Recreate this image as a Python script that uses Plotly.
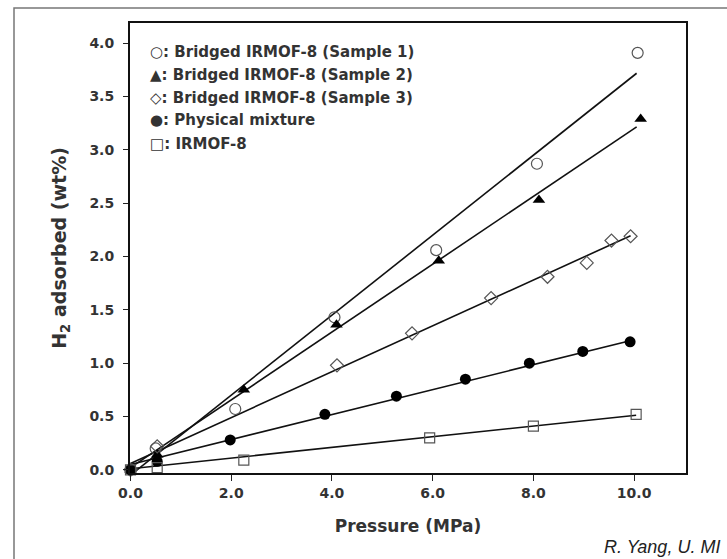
import plotly.graph_objects as go

# ---- data ----
series_names = ["Bridged IRMOF-8 (Sample 1)", "Bridged IRMOF-8 (Sample 2)",
                "Bridged IRMOF-8 (Sample 3)", "Physical mixture", "IRMOF-8"]
legend_symbols = ["○", "▲", "◇", "●", "□"]

s1_x = [0, 0.5, 2.08, 4.05, 6.07, 8.07, 10.07]
s1_y = [0, 0.20, 0.57, 1.43, 2.06, 2.87, 3.91]

s2_x = [0, 0.53, 2.25, 4.09, 6.12, 8.11, 10.13]
s2_y = [0, 0.14, 0.75, 1.36, 1.96, 2.53, 3.29]

s3_x = [0, 0.53, 4.10, 5.59, 7.16, 8.28, 9.06, 9.55, 9.93]
s3_y = [0, 0.22, 0.98, 1.28, 1.61, 1.81, 1.94, 2.15, 2.19]

pm_x = [0, 0.53, 1.98, 3.86, 5.28, 6.65, 7.92, 8.98, 9.92]
pm_y = [0, 0.08, 0.28, 0.52, 0.69, 0.85, 1.00, 1.11, 1.20]

ir_x = [0, 0.53, 2.25, 5.94, 8.00, 10.04]
ir_y = [0, 0.02, 0.09, 0.30, 0.41, 0.52]

# linear fit lines (intercept, slope, x-start, x-end)
fit_intercept = [-0.05, 0.02, 0.06, 0.05, 0.01]
fit_slope = [0.375, 0.318, 0.215, 0.117, 0.050]
fit_xstart = [0.1, 0.0, 0.0, 0.0, 0.0]
fit_xend = [10.05, 10.05, 9.93, 9.92, 10.04]

x_ticks = [0, 2, 4, 6, 8, 10]
x_ticklabels = ["0.0", "2.0", "4.0", "6.0", "8.0", "10.0"]
y_ticks = [0, 0.5, 1, 1.5, 2, 2.5, 3, 3.5, 4]
y_ticklabels = ["0.0", "0.5", "1.0", "1.5", "2.0", "2.5", "3.0", "3.5", "4.0"]

credit = "R. Yang, U. MI"

# ---- figure ----
FONT = "DejaVu Sans, sans-serif"
ARIAL = "Liberation Sans, Arial, sans-serif"
fig = go.Figure()

for b, m, xs, xe in zip(fit_intercept, fit_slope, fit_xstart, fit_xend):
    fig.add_trace(go.Scatter(x=[xs, xe], y=[b + m * xs, b + m * xe], mode="lines",
                             line=dict(color="#111111", width=1.6),
                             showlegend=False, hoverinfo="skip"))

marker_styles = [
    dict(symbol="circle-open", size=11, color="#555555", line=dict(width=1.2)),
    dict(symbol="triangle-up", size=11, color="#000000"),
    dict(symbol="diamond-open", size=10, color="#555555", line=dict(width=1.2)),
    dict(symbol="circle", size=11, color="#000000"),
    dict(symbol="square-open", size=10, color="#555555", line=dict(width=1.2)),
]
data_xy = [(s1_x, s1_y), (s2_x, s2_y), (s3_x, s3_y), (pm_x, pm_y), (ir_x, ir_y)]
for (xs, ys), ms, name in zip(data_xy, marker_styles, series_names):
    fig.add_trace(go.Scatter(x=xs, y=ys, mode="markers", marker=ms, name=name,
                             showlegend=False, cliponaxis=False))

# legend-like text block
legend_y = [3.92, 3.70, 3.49, 3.28, 3.06]
for sym, name, yy in zip(legend_symbols, series_names, legend_y):
    fig.add_annotation(x=0.35, y=yy, xref="x", yref="y", xanchor="left", yanchor="middle",
                       text="<b>" + sym + ": " + name + "</b>", showarrow=False,
                       font=dict(family=FONT, size=15, color="#333333"))

fig.add_annotation(x=(602 - 130) / 556, y=(473 - 547) / 450, xref="paper", yref="paper",
                   xanchor="left", yanchor="middle", text="<i>" + credit + "</i>",
                   showarrow=False, font=dict(family=ARIAL, size=18, color="#222222"))

# outer frame (only left and top edges fall inside the picture)
fx0, fy0 = (14 - 130) / 556, (473 - 8) / 450
fig.add_shape(type="path", xref="paper", yref="paper",
              path=f"M {fx0},-0.3 L {fx0},{fy0} L 1.2,{fy0}",
              line=dict(color="#777777", width=1.5))

fig.update_layout(
    width=727, height=559,
    margin=dict(l=130, r=41, t=23, b=86),
    paper_bgcolor="white", plot_bgcolor="white",
    font=dict(family=FONT, size=14, color="#333333"),
    xaxis=dict(range=[-0.01, 11.03], tickvals=x_ticks, ticktext=x_ticklabels,
               ticks="outside", ticklen=6, tickwidth=1.2, tickcolor="#222",
               showline=True, linecolor="#111", linewidth=2, mirror=True,
               showgrid=False, zeroline=False,
               tickfont=dict(family=FONT, size=14, color="#333", weight="bold"),
               title=dict(text="<b>Pressure (MPa)</b>", standoff=20,
                          font=dict(family=FONT, size=17, color="#333"))),
    yaxis=dict(range=[-0.03, 4.19], tickvals=y_ticks, ticktext=y_ticklabels,
               ticks="outside", ticklen=5, tickwidth=1.2, tickcolor="#222",
               ticklabelstandoff=6,
               showline=True, linecolor="#111", linewidth=2, mirror=True,
               showgrid=False, zeroline=False,
               tickfont=dict(family=FONT, size=14, color="#333", weight="bold"),
               title=dict(text="<b>H<sub>2</sub> adsorbed (wt%)</b>", standoff=18,
                          font=dict(family=FONT, size=19, color="#333"))),
)

fig.write_html("out.html", config={"displayModeBar": False},
               post_script="document.body.style.margin='0px';"
                           "document.body.style.overflow='hidden';"
                           "document.documentElement.style.overflow='hidden';")
